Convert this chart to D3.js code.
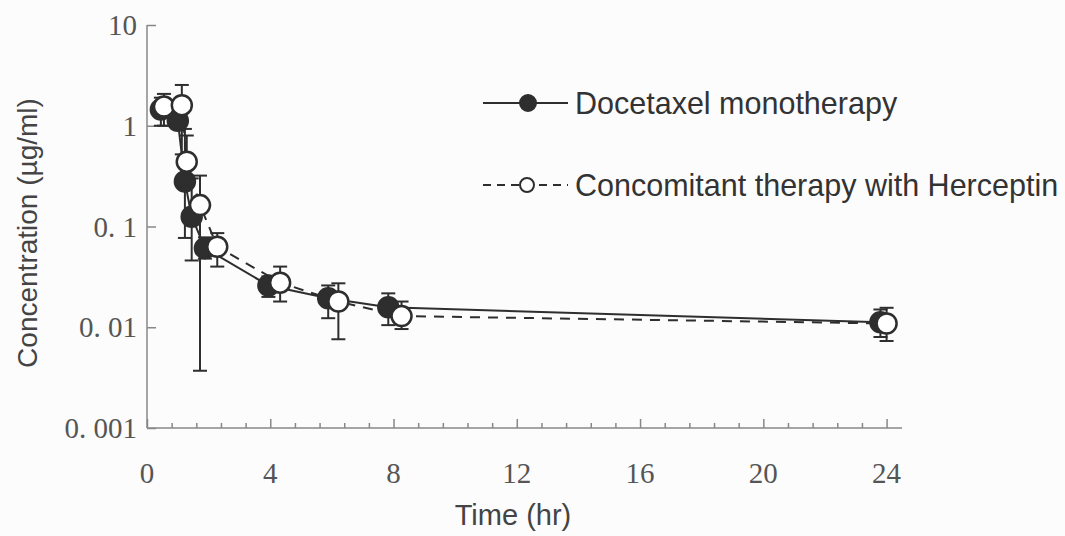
<!DOCTYPE html>
<html>
<head>
<meta charset="utf-8">
<script src="https://cdn.jsdelivr.net/npm/d3@7/dist/d3.min.js"></script>
<style>
  html, body { margin: 0; padding: 0; background: #fcfcfc; }
  svg { display: block; }
</style>
</head>
<body>
<svg id="chart" width="1065" height="536"></svg>
<script>
// ---- Data ----
const monoTime  = [0.45, 1.0, 1.23, 1.45, 1.88, 3.94, 5.88, 7.83, 23.8];
const monoConc  = [1.45, 1.12, 0.28, 0.125, 0.061, 0.026, 0.0194, 0.0158, 0.0112];
const monoLow   = [1.0, 0.93, 0.077, 0.046, 0.048, 0.020, 0.0123, 0.0105, 0.008];
const monoHigh  = [1.9, 1.35, 0.93, 0.30, 0.078, 0.032, 0.026, 0.0217, 0.015];

const combTime  = [0.55, 1.13, 1.29, 1.72, 2.28, 4.32, 6.21, 8.26, 24.0];
const combConc  = [1.55, 1.6, 0.44, 0.163, 0.063, 0.0277, 0.018, 0.0129, 0.0109];
const combLow   = [1.0, 0.52, 0.25, 0.0037, 0.040, 0.018, 0.0076, 0.0096, 0.0073];
const combHigh  = [2.07, 2.54, 0.8, 0.32, 0.086, 0.040, 0.0273, 0.018, 0.0156];

const xTicks = [0, 4, 8, 12, 16, 20, 24];
const yTicks = [10, 1, 0.1, 0.01, 0.001];
const yTickLabels = ["10", "1", "0. 1", "0. 01", "0. 001"];
const seriesNames = ["Docetaxel monotherapy", "Concomitant therapy with Herceptin"];
const xTitle = "Time (hr)";
const yTitle = "Concentration (\u00b5g/ml)";

// ---- Layout ----
const svg = d3.select("#chart");
const x = d3.scaleLinear().domain([0, 24.5]).range([147, 902]);
const y = d3.scaleLog().domain([0.001, 10]).range([428, 25]);

const axisColor = "#888";
const inkColor = "#2e2e2e";

// Axes
const gx = svg.append("g").attr("transform", `translate(0,${y(0.001)})`);
const minor = d3.range(0, 24.01, 0.8).filter(v => !xTicks.some(t => Math.abs(t - v) < 1e-6));
gx.append("g").call(d3.axisBottom(x).tickValues(minor).tickSize(-5).tickFormat(""))
  .call(g => g.select(".domain").remove());
gx.append("g").call(d3.axisBottom(x).tickValues(xTicks).tickSize(-9).tickPadding(0).tickFormat(""))
  .call(g => g.select(".domain").remove());
gx.append("line").attr("x1", x(0)).attr("x2", x(24.5)).attr("y1", 0).attr("y2", 0);
gx.selectAll("line").attr("stroke", axisColor).attr("stroke-width", 1.5);
gx.append("g").selectAll("text").data(xTicks).join("text")
  .attr("x", d => x(d)).attr("y", 55)
  .attr("text-anchor", "middle")
  .attr("font-family", "Liberation Serif, DejaVu Serif, serif")
  .attr("font-size", 29).attr("fill", "#555")
  .text(d => d);

const gy = svg.append("g").attr("transform", `translate(${x(0)},0)`);
gy.append("g").call(d3.axisLeft(y).tickValues(yTicks).tickSize(-9).tickFormat(""))
  .call(g => g.select(".domain").remove());
gy.append("line").attr("x1", 0).attr("x2", 0).attr("y1", y(10)).attr("y2", y(0.001));
gy.selectAll("line").attr("stroke", axisColor).attr("stroke-width", 1.5);
gy.append("g").selectAll("text").data(yTicks).join("text")
  .attr("x", -10).attr("y", d => y(d)).attr("dy", "0.35em")
  .attr("text-anchor", "end")
  .attr("font-family", "Liberation Serif, DejaVu Serif, serif")
  .attr("font-size", 29).attr("fill", "#555")
  .text((d, i) => yTickLabels[i]);

// Axis titles
svg.append("text").attr("x", 513).attr("y", 525).attr("text-anchor", "middle")
  .attr("font-family", "Liberation Sans, Arial, sans-serif").attr("font-size", 29)
  .attr("fill", "#444").text(xTitle);
svg.append("text").attr("transform", `translate(37,233) rotate(-90)`).attr("text-anchor", "middle")
  .attr("font-family", "Liberation Sans, Arial, sans-serif").attr("font-size", 28)
  .attr("fill", "#444").text(yTitle);

// Series drawing
const line = d3.line().x(d => x(d.t)).y(d => y(d.c));
function build(time, conc, low, high) {
  return time.map((t, i) => ({ t, c: conc[i], lo: low[i], hi: high[i] }));
}
const mono = build(monoTime, monoConc, monoLow, monoHigh);
const comb = build(combTime, combConc, combLow, combHigh);

function drawSeries(data, opts) {
  const g = svg.append("g");
  g.append("path").datum(data).attr("d", line)
    .attr("fill", "none").attr("stroke", inkColor).attr("stroke-width", 2)
    .attr("stroke-dasharray", opts.dash || null);
  const eb = g.append("g").attr("stroke", inkColor).attr("stroke-width", 2);
  eb.selectAll("line.v").data(data).join("line").attr("class", "v")
    .attr("x1", d => x(d.t)).attr("x2", d => x(d.t))
    .attr("y1", d => y(d.lo)).attr("y2", d => y(d.hi));
  eb.selectAll("line.hi").data(data).join("line").attr("class", "hi")
    .attr("x1", d => x(d.t) - 7).attr("x2", d => x(d.t) + 7)
    .attr("y1", d => y(d.hi)).attr("y2", d => y(d.hi));
  eb.selectAll("line.lo").data(data).join("line").attr("class", "lo")
    .attr("x1", d => x(d.t) - 7).attr("x2", d => x(d.t) + 7)
    .attr("y1", d => y(d.lo)).attr("y2", d => y(d.lo));
  g.selectAll("circle").data(data).join("circle")
    .attr("cx", d => x(d.t)).attr("cy", d => y(d.c)).attr("r", 10)
    .attr("fill", opts.fill).attr("stroke", inkColor).attr("stroke-width", 2.5);
}
drawSeries(mono, { fill: inkColor });
drawSeries(comb, { fill: "#fff", dash: "10,8" });

// Legend
const leg = svg.append("g");
const legRows = [
  { y: 103, fill: inkColor, dash: null, r: 8, cx: 528 },
  { y: 185, fill: "#fff", dash: "8,6", r: 7, cx: 527 }
];
legRows.forEach((row, i) => {
  leg.append("line").attr("x1", 483).attr("x2", 568).attr("y1", row.y).attr("y2", row.y)
    .attr("stroke", inkColor).attr("stroke-width", 2).attr("stroke-dasharray", row.dash);
  leg.append("circle").attr("cx", row.cx).attr("cy", row.y).attr("r", row.r)
    .attr("fill", row.fill).attr("stroke", inkColor).attr("stroke-width", 2);
  leg.append("text").attr("x", 575).attr("y", row.y).attr("dy", "0.35em")
    .attr("font-family", "Liberation Sans, Arial, sans-serif").attr("font-size", 30.5)
    .attr("fill", "#333").text(seriesNames[i]);
});
</script>
</body>
</html>
